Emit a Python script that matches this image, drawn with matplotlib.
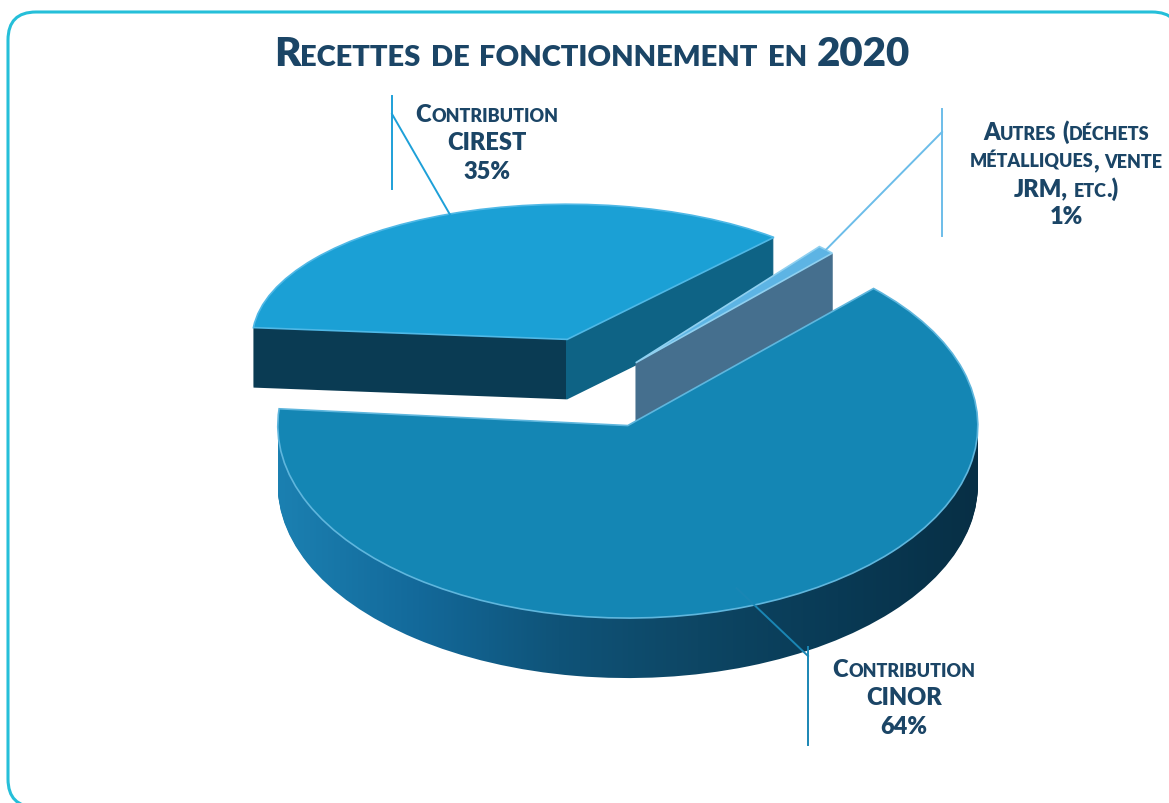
import numpy as np
import matplotlib.pyplot as plt
from matplotlib.colors import LinearSegmentedColormap, ListedColormap
from matplotlib.offsetbox import TextArea, HPacker, AnnotationBbox
from matplotlib.patches import PathPatch
from matplotlib.path import Path
from matplotlib.transforms import Affine2D, IdentityTransform

# data
values = [64, 1, 35]
slice_names = ['CINOR', 'Autres', 'CIREST']
label_lines = [
    ['Contribution', 'CINOR', '64%'],
    ['Autres (déchets', 'métalliques, vente', 'JRM, etc.)', '1%'],
    ['Contribution', 'CIREST', '35%'],
]
title = 'Recettes de fonctionnement en 2020'

# style
explode = [0.23, 0.15, 0.25]
radii = [1.0, 0.8, 0.9]       # back slices look smaller (perspective)
squash = [1.0, 1.0, 0.78]     # and flatter
top_colors = ['#1486b4', '#5db4e4', '#1ba0d5']
wall_colors = ['#0f5378', '#456f8e', '#0a3b53']
edge_colors = ['#5fb6dd', '#8fd0f0', '#4fb8e6']
line_colors = ['#1a86b4', '#6cbde9', '#1ea0d8']
slice_z = [5, 3, 1]
NAVY = '#1b4566'
FONT = 'Lato'

# wall shading
cinor_wall = LinearSegmentedColormap.from_list(
    'cinor_wall', ['#1b80b1', '#13699a', '#0f5378', '#0d4664', '#093a55', '#072f45'])
cirest_wall = ListedColormap(['#0a3b53', '#0e6385'])

W, H = 1169, 804
K = 0.55      # vertical squash of the disc
R = 350       # disc radius in px
DEPTH = 60    # thickness in px
YMAX = H / (K * R)


def px(x, y):
    # pixel position (from top-left) -> data coords
    return x / R, (H - y) / (K * R)


fig = plt.figure(figsize=(W / 100, H / 100), dpi=100)
ax = fig.add_axes([0, 0, 1, 1])

cx, cy = px(600, 385)
grad = np.linspace(0, 1, 256).reshape(1, -1)
top_wedges = None
for d in np.linspace(DEPTH, 0, DEPTH + 1):
    is_top = d == 0
    wedges, _ = ax.pie(values, explode=explode, startangle=175, radius=1,
                       center=(cx, cy - d / (K * R)), counterclock=True,
                       colors=top_colors if is_top else wall_colors)
    for i, w in enumerate(wedges):
        w.set_radius(radii[i])
        if squash[i] != 1.0:
            wx, wy = w.center
            w.set_transform(Affine2D().translate(-wx, -wy).scale(1, squash[i])
                            .translate(wx, wy) + ax.transData)
        if is_top:
            w.set_zorder(slice_z[i] + 0.5)
            w.set_edgecolor(edge_colors[i])
            w.set_linewidth(1.2)
            continue
        w.set_zorder(slice_z[i])
        w.set_edgecolor(wall_colors[i])
        w.set_linewidth(1.0)
        # shaded side walls: the wedge only serves as clip shape
        if slice_names[i] == 'CINOR':
            im = ax.imshow(grad, cmap=cinor_wall, aspect='auto', interpolation='bilinear',
                           extent=[w.center[0] - w.r, w.center[0] + w.r, 0, YMAX],
                           zorder=slice_z[i])
        elif slice_names[i] == 'CIREST':
            im = ax.imshow([[0, 1]], cmap=cirest_wall, aspect='auto', interpolation='nearest',
                           extent=[w.center[0] - 2, w.center[0] + 2, 0, YMAX],
                           zorder=slice_z[i])
        else:
            continue
        w.set_facecolor('none')
        w.set_edgecolor('none')
        im.set_clip_path(w)
    if is_top:
        top_wedges = wedges

ax.set_xlim(0, W / R)
ax.set_ylim(0, YMAX)
ax.set_aspect('auto')
ax.axis('off')


def small_caps(text, big, small, weight='heavy', color=NAVY):
    words = []
    for word in text.split(' '):
        runs = []
        cur, cur_small = '', None
        for ch in word:
            s = ch.islower()
            if cur and s != cur_small:
                runs.append((cur, cur_small))
                cur = ''
            cur += ch.upper() if s else ch
            cur_small = s
        if cur:
            runs.append((cur, cur_small))
        parts = [TextArea(t, textprops=dict(fontsize=small if s else big, fontweight=weight,
                                            color=color, family=FONT)) for t, s in runs]
        words.append(HPacker(children=parts, align='baseline', pad=0, sep=0))
    return HPacker(children=words, align='baseline', pad=0, sep=big * 0.25)


def put(box, x, y):
    ab = AnnotationBbox(box, px(x, y), xycoords='data', frameon=False,
                        box_alignment=(0.5, 0.5), pad=0)
    ab.set_zorder(10)
    ax.add_artist(ab)


# title
put(small_caps(title, 29, 21), 592, 55)

# labels
label_pos = [(904, [670, 698, 727]), (1066, [132, 161, 189, 217]), (487, [115, 143, 172])]
for lines, (lx, ys) in zip(label_lines, label_pos):
    for t, y in zip(lines, ys):
        put(small_caps(t, 17, 13), lx, y)

# leader lines: anchor on slice -> elbow, plus vertical bar
anchor_frac = [0.9, 1.0, 0.99]
elbows = [(808, 657), (942, 133), (392, 115)]
bars = [(808, 648, 746), (942, 110, 237), (392, 97, 190)]
for i, w in enumerate(top_wedges):
    a = np.deg2rad((w.theta1 + w.theta2) / 2)
    ax_x = w.center[0] + anchor_frac[i] * w.r * np.cos(a)
    ax_y = w.center[1] + anchor_frac[i] * w.r * np.sin(a) * squash[i]
    ex, ey = px(*elbows[i])
    ax.plot([ax_x, ex], [ax_y, ey], color=line_colors[i], lw=1.4, zorder=9)
    bx, y0, y1 = bars[i]
    b0, b1 = px(bx, y0), px(bx, y1)
    ax.plot([b0[0], b1[0]], [b0[1], b1[1]], color=line_colors[i], lw=1.4, zorder=9)

# rounded frame, open on the right and bottom (runs off the picture)
fx0, fy0, fx1, fy1, rr = 8, 13, 1180, 808, 28
frame_pts = [(fx1, fy0 + rr), (fx1, fy0), (fx1 - rr, fy0), (fx0 + rr, fy0), (fx0, fy0),
             (fx0, fy0 + rr), (fx0, fy1 - rr), (fx0, fy1), (fx0 + rr, fy1)]
codes = [Path.MOVETO, Path.CURVE3, Path.CURVE3, Path.LINETO, Path.CURVE3, Path.CURVE3,
         Path.LINETO, Path.CURVE3, Path.CURVE3]
frame = PathPatch(Path([(x, H - y) for x, y in frame_pts], codes),
                  transform=IdentityTransform(), facecolor='none',
                  edgecolor='#25bfd9', linewidth=2.2)
fig.add_artist(frame)

fig.savefig('out.png', dpi=100)
